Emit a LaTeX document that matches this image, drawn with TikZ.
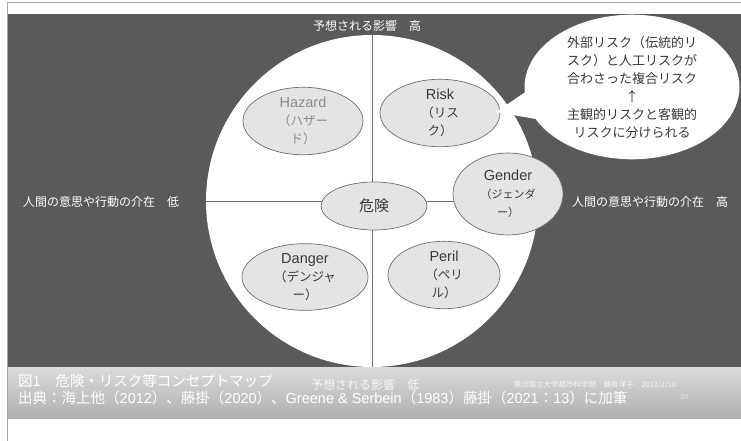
\documentclass[tikz,border=0pt]{standalone}
\usepackage{fontspec}
\setmainfont{Liberation Sans}
\newfontfamily\jp{Noto Sans CJK JP}
\usetikzlibrary{shapes.geometric,shapes.callouts}
\definecolor{panel}{HTML}{5A5A5A}
\definecolor{ellfill}{HTML}{E4E4E4}
\definecolor{ellline}{HTML}{707070}
\definecolor{txt}{HTML}{3A3A3A}
\definecolor{lighttxt}{HTML}{8C8C8C}
\newcommand\jps{\jp\fontsize{12.5}{18}\selectfont}
\newcommand\jpg{\jp\fontsize{11}{16}\selectfont}
\begin{document}
\begin{tikzpicture}[x=1pt,y=-1pt,
  ell/.style={ellipse, draw=ellline, fill=ellfill, line width=0.7pt, inner sep=0pt,
    align=center, text=txt, font=\fontsize{14.5}{18}\selectfont},
  axislabel/.style={text=white, font=\jp\fontsize{12}{14}\selectfont, inner sep=0pt},
  caption/.style={text=white, font=\fontsize{14.5}{17}\selectfont, inner sep=0pt, anchor=west}]
\useasboundingbox (0,0) rectangle (741,441);
\fill[white] (0,0) rectangle (741,441);
\fill[panel] (8,14) rectangle (741,367);
\shade[top color=gray!28, bottom color=gray!62] (8,367) rectangle (741,418);
\draw[gray!70, line width=0.8pt] (7,2) -- (741,2);
\draw[gray!70, line width=0.8pt] (7,2) -- (7,441);
% big circle
\node[circle, fill=white, minimum size=332pt, inner sep=0pt] (C) at (372,201) {};
\draw[ellline, line width=0.7pt] (C.north) -- (C.south);
\draw[ellline, line width=0.7pt] (C.west) -- (C.east);
% ellipses
\node[ell, text=lighttxt, minimum width=120pt, minimum height=58pt] (hazard) at (303,121)
  {Hazard\\{\jps （ハザー}\\{\jps ド）}};
\node[ell, minimum width=120pt, minimum height=60pt] (risk) at (440,113)
  {Risk\\{\jps （リス}\\{\jps ク）}};
\node[ell, minimum width=110pt, minimum height=82pt] (gender) at (508,194)
  {Gender\\{\jpg （ジェンダ}\\{\jpg ー）}};
\node[ell, minimum width=106pt, minimum height=48pt, font=\jp\fontsize{15}{18}\selectfont] (kiken) at (374,206) {危険};
\node[ell, minimum width=126pt, minimum height=61pt] (danger) at (305,277)
  {Danger\\{\jps （デンジャ}\\{\jps ー）}};
\node[ell, minimum width=112pt, minimum height=60pt] (peril) at (444,275)
  {Peril\\{\jps （ペリ}\\{\jps ル）}};
% callout
\coordinate (tip) at (496,112);
\node[ellipse callout, fill=white, minimum width=215pt, minimum height=130pt, inner sep=0pt,
  callout absolute pointer={(tip)}, callout pointer arc=22, align=center, text=txt,
  font=\jp\fontsize{13}{18}\selectfont] (note) at (632,87)
  {外部リスク（伝統的リ\\スク）と人工リスクが\\合わさった複合リスク\\↑\\主観的リスクと客観的\\リスクに分けられる};
% axis labels
\node[axislabel] (top) at (367,26) {予想される影響　高};
\node[axislabel] (left) at (101,202) {人間の意思や行動の介在　低};
\node[axislabel] (right) at (650,202) {人間の意思や行動の介在　高};
\node[axislabel, text=white!92!gray] (bottom) at (365,385) {予想される影響　低};
\node[text=white!92!gray, font=\jp\fontsize{7.5}{9}\selectfont, inner sep=0pt] (author) at (595,385)
  {横浜国立大学都市科学部　藤掛洋子　2022/2/10};
% caption
\node[caption] (cap1) at (18,381) {{\jp 図}1{\jp 　危険・リスク等コンセプトマップ}};
\node[caption] (cap2) at (18,398) {{\jp 出典：海上他（}2012{\jp ）、藤掛（}2020{\jp ）、}Greene \& Serbein{\jp （}1983{\jp ）藤掛（}2021{\jp ：}13{\jp ）に加筆}};
\node[text=white!85!gray, font=\fontsize{7}{8}\selectfont, inner sep=0pt] (pg) at (684,397) {10};
\end{tikzpicture}
\end{document}
